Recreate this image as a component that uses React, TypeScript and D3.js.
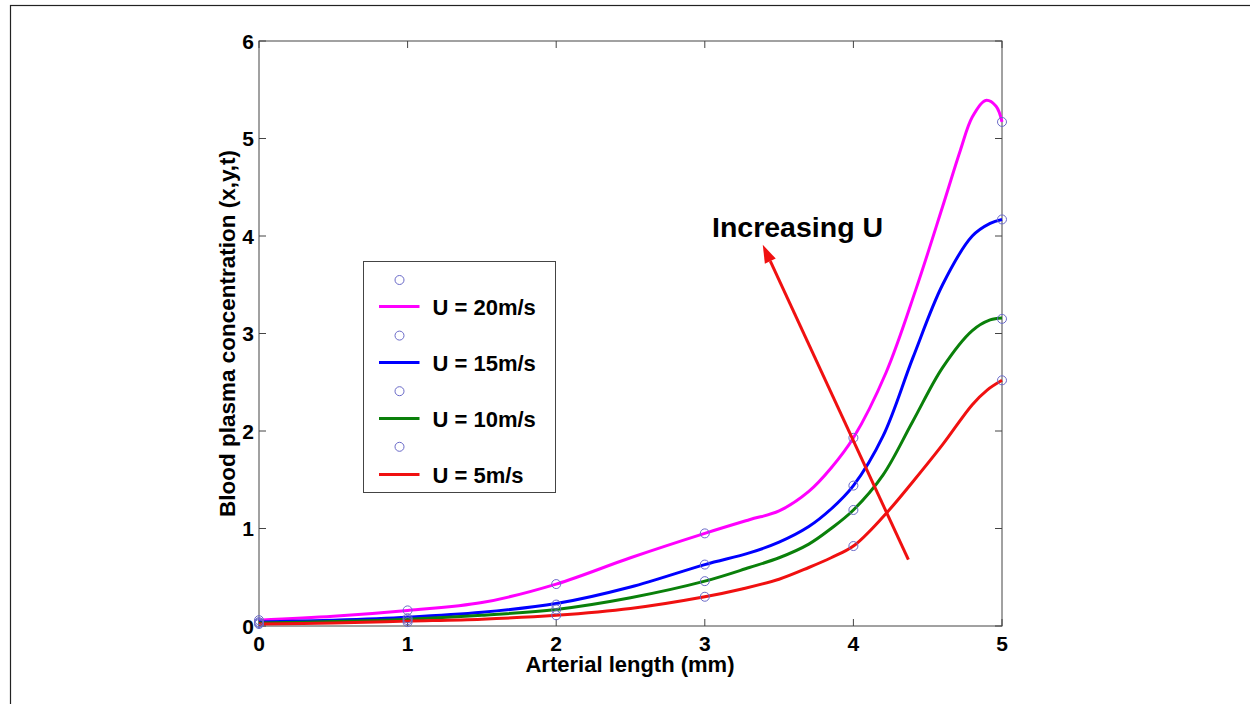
import React from "react";
import * as d3 from "d3";

// ---- data ----
const seriesNames = ["U = 20m/s", "U = 15m/s", "U = 10m/s", "U = 5m/s"];
const seriesColors = ["#ff00ff", "#0000ff", "#0a800a", "#f01010"];

const magentaX = [0, 0.5, 1, 1.5, 2, 2.5, 3, 3.3, 3.5, 3.7, 3.85, 4, 4.22, 4.42, 4.6, 4.72, 4.8, 4.89, 4.96, 5];
const magentaY = [0.06, 0.1, 0.16, 0.24, 0.43, 0.7, 0.95, 1.09, 1.18, 1.38, 1.62, 1.93, 2.6, 3.45, 4.3, 4.88, 5.22, 5.39, 5.33, 5.17];

const blueX = [0, 0.5, 1, 1.5, 2, 2.5, 3, 3.3, 3.5, 3.7, 3.85, 4, 4.2, 4.4, 4.6, 4.8, 4.92, 5];
const blueY = [0.04, 0.06, 0.09, 0.14, 0.23, 0.4, 0.63, 0.75, 0.86, 1.02, 1.2, 1.44, 1.95, 2.75, 3.5, 4.0, 4.13, 4.17];

const greenX = [0, 0.5, 1, 1.5, 2, 2.5, 3, 3.3, 3.5, 3.7, 3.85, 4, 4.2, 4.4, 4.6, 4.8, 4.92, 5];
const greenY = [0.03, 0.045, 0.07, 0.11, 0.17, 0.29, 0.46, 0.6, 0.7, 0.84, 1.0, 1.19, 1.55, 2.1, 2.65, 3.03, 3.14, 3.16];

const redX = [0, 0.5, 1, 1.5, 2, 2.5, 3, 3.25, 3.5, 3.7, 3.85, 4, 4.2, 4.4, 4.6, 4.8, 4.9, 5];
const redY = [0.02, 0.03, 0.05, 0.07, 0.11, 0.18, 0.3, 0.38, 0.48, 0.6, 0.7, 0.82, 1.12, 1.48, 1.86, 2.27, 2.42, 2.52];

const markerX = [0, 1, 2, 3, 4, 5];
const magentaMarkers = [0.06, 0.16, 0.43, 0.95, 1.93, 5.17];
const blueMarkers = [0.04, 0.08, 0.22, 0.63, 1.44, 4.17];
const greenMarkers = [0.03, 0.06, 0.17, 0.46, 1.19, 3.15];
const redMarkers = [0.02, 0.04, 0.11, 0.3, 0.82, 2.52];

const xTicks = [0, 1, 2, 3, 4, 5];
const yTicks = [0, 1, 2, 3, 4, 5, 6];

const xLabel = "Arterial length (mm)";
const yLabel = "Blood plasma concentration (x,y,t)";
const annotation = "Increasing U";

// arrow in data coordinates (tail -> head)
const arrowTail = [4.37, 0.68];
const arrowHead = [3.39, 3.91];

export default function App() {
  const W = 1250, H = 704;
  const left = 259, right = 1002, top = 41, bottom = 626;
  const x = d3.scaleLinear().domain([0, 5]).range([left, right]);
  const y = d3.scaleLinear().domain([0, 6]).range([bottom, top]);
  const font = "'Liberation Sans', Arial, Helvetica, sans-serif";
  const axisColor = "#444";
  const tickLen = 7;
  const markerColor = "#6a6ac8";

  const lines = [
    { xs: magentaX, ys: magentaY },
    { xs: blueX, ys: blueY },
    { xs: greenX, ys: greenY },
    { xs: redX, ys: redY },
  ];
  const markers = [magentaMarkers, blueMarkers, greenMarkers, redMarkers];

  const lineGen = d3
    .line<[number, number]>()
    .x((d) => x(d[0]))
    .y((d) => y(d[1]))
    .curve(d3.curveCatmullRom.alpha(0.5));

  // arrow geometry
  const tx = x(arrowTail[0]), ty = y(arrowTail[1]);
  const hx = x(arrowHead[0]), hy = y(arrowHead[1]);
  const ang = Math.atan2(hy - ty, hx - tx);
  const headLen = 18, headHalf = 6;
  const bx = hx - headLen * Math.cos(ang), by = hy - headLen * Math.sin(ang);
  const px = -Math.sin(ang), py = Math.cos(ang);
  const headPts = [
    [hx, hy],
    [bx + headHalf * px, by + headHalf * py],
    [bx - headHalf * px, by - headHalf * py],
  ]
    .map((p) => p.join(","))
    .join(" ");

  // legend layout
  const lgX = 363, lgY = 261, lgW = 192, lgH = 231;

  return (
    <svg
      width={W}
      height={H}
      style={{ position: "absolute", left: 0, top: 0, background: "#fff" }}
      fontFamily={font}
    >
      <rect x={0} y={0} width={W} height={H} fill="#fff" />
      {/* outer frame */}
      <rect x={10.5} y={5.5} width={W + 20} height={H + 20} fill="none" stroke="#222" strokeWidth={1.2} />

      {/* axes box */}
      <rect x={left} y={top} width={right - left} height={bottom - top} fill="none" stroke={axisColor} strokeWidth={1} />

      {/* ticks */}
      {xTicks.map((t) => (
        <g key={"xt" + t}>
          <line x1={x(t)} x2={x(t)} y1={bottom} y2={bottom - tickLen} stroke={axisColor} />
          <line x1={x(t)} x2={x(t)} y1={top} y2={top + tickLen} stroke={axisColor} />
          <text x={x(t)} y={651} textAnchor="middle" fontSize={21} fontWeight="bold" fill="#000">
            {t}
          </text>
        </g>
      ))}
      {yTicks.map((t) => (
        <g key={"yt" + t}>
          <line x1={left} x2={left + tickLen} y1={y(t)} y2={y(t)} stroke={axisColor} />
          <line x1={right} x2={right - tickLen} y1={y(t)} y2={y(t)} stroke={axisColor} />
          <text x={254} y={y(t) + 7.5} textAnchor="end" fontSize={21} fontWeight="bold" fill="#000">
            {t}
          </text>
        </g>
      ))}

      {/* axis labels */}
      <text x={630} y={672} textAnchor="middle" fontSize={22} fontWeight="bold" fill="#000">
        {xLabel}
      </text>
      <text
        transform={`translate(235,${(top + bottom) / 2}) rotate(-90)`}
        textAnchor="middle"
        fontSize={22.5}
        fontWeight="bold"
        fill="#000"
      >
        {yLabel}
      </text>

      {/* curves */}
      {lines.map((s, i) => (
        <path
          key={"l" + i}
          d={lineGen(s.xs.map((v, k) => [v, s.ys[k]] as [number, number])) || ""}
          fill="none"
          stroke={seriesColors[i]}
          strokeWidth={3}
        />
      ))}

      {/* markers */}
      {markers.map((m, i) =>
        m.map((v, k) => (
          <circle
            key={"m" + i + "-" + k}
            cx={x(markerX[k])}
            cy={y(v)}
            r={4.5}
            fill="none"
            stroke={markerColor}
            strokeWidth={1}
          />
        ))
      )}

      {/* arrow */}
      <line x1={tx} y1={ty} x2={bx} y2={by} stroke="#f01010" strokeWidth={3} />
      <polygon points={headPts} fill="#f01010" />
      <text x={712} y={237} fontSize={28.5} fontWeight="bold" fill="#000">
        {annotation}
      </text>

      {/* legend */}
      <rect x={lgX + 0.5} y={lgY + 0.5} width={lgW} height={lgH} fill="#fff" stroke={axisColor} strokeWidth={1} />
      {seriesNames.map((name, i) => {
        const my = 280 + i * 55.6;
        const ly = 306.5 + i * 56;
        return (
          <g key={"lg" + i}>
            <circle cx={399.5} cy={my} r={4.5} fill="none" stroke={markerColor} strokeWidth={1} />
            <line x1={379} x2={419.5} y1={ly} y2={ly} stroke={seriesColors[i]} strokeWidth={3} />
            <text x={432.5} y={ly + 8} fontSize={22} fontWeight="bold" fill="#000">
              {name}
            </text>
          </g>
        );
      })}
    </svg>
  );
}
